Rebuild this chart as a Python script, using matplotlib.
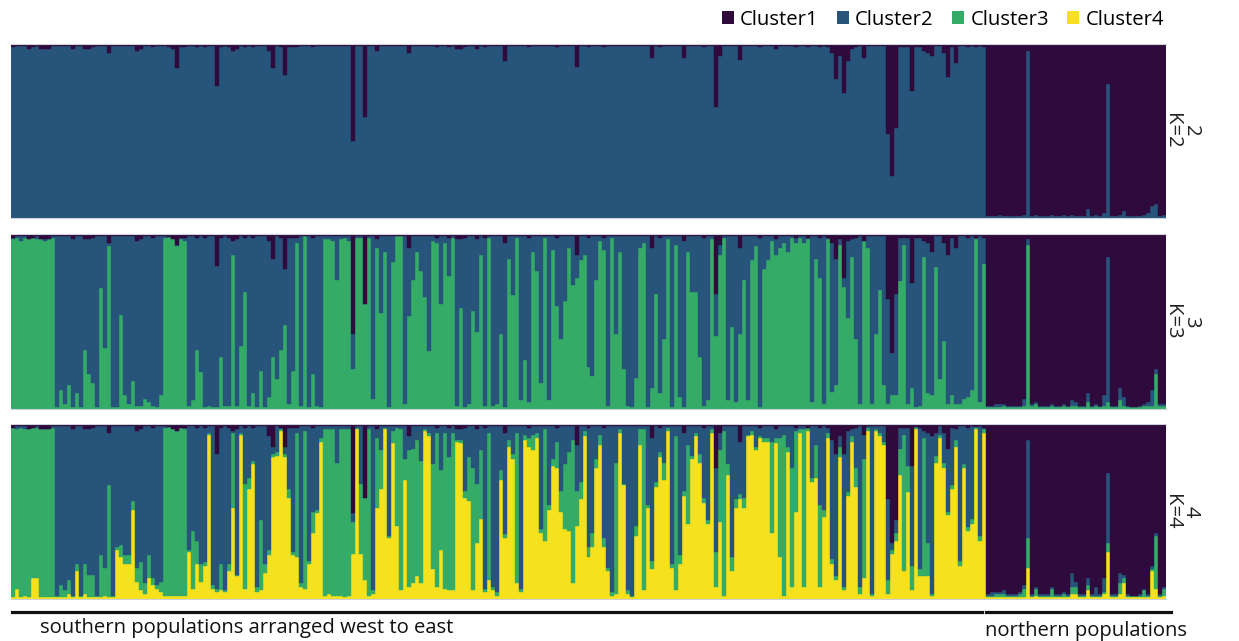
import numpy as np
import matplotlib.pyplot as plt
from matplotlib.patches import Patch
from matplotlib.lines import Line2D

plt.rcParams['font.family'] = ['Open Sans', 'DejaVu Sans']

cluster_names = ['Cluster1', 'Cluster2', 'Cluster3', 'Cluster4']
cluster_colors = ['#2f0b3d', '#27547a', '#34ac68', '#f6e11c']
k_values = ['2', '3', '4']
south_label = 'southern populations arranged west to east'
north_label = 'northern populations'

# percent membership per individual, southern individuals (west -> east)
# Cluster2 (blue) is the remainder in the south
k2_purple_south = [
    2, 1, 1, 1, 3, 2, 1, 3, 3, 3, 1, 1, 1, 1, 1, 3, 1, 1, 3, 3, 2, 1, 1, 1, 5, 1, 1, 1, 1, 1,
    1, 4, 3, 1, 1, 2, 1, 1, 1, 2, 3, 14, 2, 2, 1, 1, 2, 1, 2, 1, 1, 24, 2, 1, 2, 4, 3, 1, 2, 1,
    2, 1, 1, 1, 4, 14, 1, 2, 18, 2, 2, 2, 1, 1, 1, 2, 1, 1, 1, 1, 1, 1, 1, 1, 1, 56, 1, 1,
    42, 1, 1, 4, 1, 1, 1, 1, 1, 1, 1, 5, 1, 1, 1, 1, 1, 1, 2, 1, 1, 2, 1, 3, 3, 2, 1, 1, 3, 1,
    2, 1, 1, 1, 1, 10, 1, 1, 1, 1, 1, 2, 1, 1, 1, 1, 1, 1, 2, 1, 1, 1, 1, 13, 1, 1, 2, 1, 1,
    1, 2, 1, 1, 1, 1, 1, 1, 1, 1, 1, 1, 1, 8, 1, 2, 1, 1, 1, 1, 1, 8, 1, 1, 1, 1, 2, 1, 1,
    36, 7, 1, 1, 1, 1, 9, 1, 1, 1, 1, 2, 1, 1, 1, 3, 1, 1, 1, 1, 2, 1, 1, 2, 1, 1, 2, 1,
    2, 5, 20, 7, 28, 10, 3, 2, 1, 8, 1, 1, 1, 1, 1, 52, 76, 48, 2, 2, 2, 27, 2, 2, 4, 5, 7, 1, 1,
    5, 19, 2, 11, 1, 1, 2, 1, 2, 1, 2]

k3_purple_south = [
    2, 1, 1, 1, 3, 2, 1, 3, 3, 3, 1, 1, 1, 1, 1, 3, 1, 1, 3, 3, 2, 1, 1, 1, 5, 1, 1, 1, 1, 1,
    1, 4, 3, 1, 1, 2, 1, 1, 1, 2, 3, 6, 2, 2, 1, 1, 2, 1, 2, 1, 1, 18, 2, 1, 2, 4, 3, 1, 2, 1,
    2, 1, 1, 1, 4, 14, 1, 2, 20, 2, 2, 2, 1, 1, 1, 2, 1, 1, 1, 1, 1, 1, 1, 1, 1, 57, 1, 1,
    40, 1, 1, 3, 1, 1, 1, 1, 1, 1, 1, 8, 1, 1, 1, 1, 1, 1, 2, 1, 1, 2, 1, 3, 3, 2, 1, 1, 3, 1,
    2, 1, 1, 1, 1, 5, 1, 1, 1, 1, 1, 2, 1, 1, 1, 1, 1, 1, 2, 1, 1, 1, 1, 12, 1, 1, 2, 1, 1,
    1, 2, 1, 1, 1, 1, 1, 1, 1, 1, 1, 1, 1, 8, 1, 2, 1, 1, 1, 1, 1, 4, 1, 1, 1, 1, 2, 1, 1,
    34, 6, 1, 1, 1, 1, 8, 1, 1, 1, 1, 2, 1, 1, 1, 3, 1, 1, 1, 1, 2, 1, 1, 2, 1, 1, 2, 1,
    2, 5, 14, 3, 25, 4, 3, 2, 1, 4, 1, 1, 1, 1, 1, 37, 68, 34, 2, 2, 2, 28, 2, 2, 4, 5, 10, 1, 1,
    5, 12, 2, 8, 1, 1, 2, 1, 2, 1, 2]

k3_green_south = [
    97, 98, 96, 98, 97, 98, 97, 98, 96, 97, 98, 1, 11, 3, 14, 1, 9, 1, 34, 20, 15, 1, 69, 35, 93, 1, 1, 54, 8, 3,
    16, 2, 2, 6, 4, 2, 1, 8, 98, 99, 98, 93, 97, 96, 2, 5, 34, 21, 1, 2, 1, 1, 30, 2, 2, 88, 2, 36, 67, 2,
    9, 1, 22, 1, 7, 30, 17, 34, 48, 3, 22, 95, 2, 99, 1, 20, 2, 1, 97, 97, 96, 74, 97, 98, 96, 23, 98, 98, 60,
    98, 6, 92, 55, 90, 1, 84, 99, 99, 3, 53, 74, 90, 79, 64, 33, 96, 95, 60, 95, 76, 98, 2, 58, 1, 3, 56, 44, 88,
    2, 98, 2, 3, 43, 1, 86, 65, 98, 5, 28, 4, 90, 79, 15, 98, 5, 91, 59, 40, 62, 92, 71, 75, 85, 88, 24, 19, 74, 96,
    91, 2, 98, 43, 90, 23, 2, 1, 18, 92, 95, 1, 12, 66, 9, 40, 97, 1, 94, 7, 1, 90, 67, 67, 30, 2, 5, 97,
    42, 88, 98, 5, 47, 4, 43, 74, 5, 85, 93, 1, 80, 85, 96, 88, 92, 95, 90, 98, 95, 98, 95, 97, 4, 86, 75, 3,
    97, 10, 14, 94, 70, 52, 87, 40, 3, 97, 92, 3, 43, 68, 14, 3, 8, 8, 73, 94, 3, 12, 1, 2, 87, 9, 8, 81, 17,
    39, 3, 8, 3, 3, 6, 7, 11, 97, 4, 83]

k4_purple_south = [
    2, 1, 1, 1, 3, 2, 1, 3, 3, 3, 1, 1, 1, 1, 1, 3, 1, 1, 3, 3, 2, 1, 1, 1, 5, 1, 1, 1, 1, 1,
    1, 4, 3, 1, 1, 2, 1, 1, 1, 2, 3, 4, 2, 2, 1, 1, 2, 1, 2, 1, 1, 17, 2, 1, 2, 4, 3, 1, 2, 1,
    2, 1, 1, 1, 7, 13, 1, 2, 13, 2, 2, 2, 1, 1, 1, 2, 1, 1, 1, 1, 1, 1, 1, 1, 1, 51, 1, 1,
    42, 1, 1, 3, 1, 1, 1, 1, 1, 1, 1, 7, 1, 1, 1, 1, 1, 1, 2, 1, 1, 2, 1, 3, 3, 2, 1, 1, 3, 1,
    2, 1, 1, 1, 1, 5, 1, 1, 1, 1, 1, 2, 1, 1, 1, 1, 1, 1, 2, 1, 1, 1, 1, 12, 1, 1, 2, 1, 1,
    1, 2, 1, 1, 1, 1, 1, 1, 1, 1, 1, 1, 1, 8, 1, 2, 1, 1, 1, 1, 1, 5, 1, 1, 1, 1, 2, 1, 1,
    25, 5, 1, 1, 1, 1, 10, 1, 1, 1, 1, 2, 1, 1, 1, 3, 1, 1, 1, 1, 2, 1, 1, 2, 1, 1, 2, 1,
    2, 9, 17, 7, 17, 4, 3, 2, 1, 6, 1, 1, 1, 1, 1, 43, 68, 55, 2, 2, 2, 24, 2, 2, 4, 5, 7, 5, 1,
    5, 14, 2, 3, 1, 1, 2, 1, 2, 1, 2]

k4_green_south = [
    97, 91, 97, 95, 97, 86, 86, 98, 97, 97, 97, 1, 7, 4, 8, 1, 4, 1, 17, 13, 13, 1, 24, 16, 64, 1, 2, 7, 5, 5,
    5, 8, 16, 6, 13, 4, 2, 6, 96, 97, 96, 94, 96, 95, 1, 33, 13, 10, 2, 1, 2, 2, 15, 1, 4, 43, 1, 1, 60, 6,
    2, 3, 40, 5, 3, 2, 2, 1, 2, 5, 2, 71, 2, 90, 2, 12, 2, 2, 95, 94, 95, 76, 95, 96, 95, 18, 1, 40, 47,
    95, 2, 40, 22, 1, 1, 7, 56, 92, 12, 78, 77, 78, 70, 1, 2, 60, 88, 46, 89, 76, 90, 1, 2, 4, 25, 70, 34, 39,
    2, 84, 2, 2, 6, 2, 4, 3, 86, 2, 3, 5, 9, 3, 2, 64, 3, 4, 15, 12, 37, 45, 82, 20, 10, 3, 6, 8, 5,
    6, 5, 2, 2, 75, 2, 1, 2, 1, 6, 9, 92, 2, 5, 3, 3, 10, 2, 2, 88, 5, 3, 45, 2, 2, 5, 3, 2, 2,
    20, 41, 94, 6, 8, 5, 3, 6, 1, 2, 2, 1, 2, 2, 52, 3, 68, 92, 3, 68, 46, 2, 90, 2, 2, 19, 47, 4,
    3, 3, 2, 6, 2, 2, 3, 11, 4, 68, 2, 1, 1, 2, 2, 8, 2, 5, 15, 78, 15, 14, 1, 4, 79, 19, 1, 4, 2,
    3, 2, 2, 4, 3, 2, 2, 3, 1, 3, 2]

k4_yellow_south = [
    1, 6, 1, 2, 1, 12, 12, 1, 1, 1, 1, 1, 1, 1, 3, 1, 16, 1, 3, 1, 1, 1, 1, 2, 1, 1, 28, 24, 20, 20,
    51, 10, 5, 3, 12, 8, 6, 4, 2, 2, 2, 2, 2, 2, 27, 6, 20, 10, 19, 94, 6, 4, 5, 4, 16, 52, 13, 94, 6, 63,
    77, 4, 5, 15, 25, 81, 82, 96, 81, 58, 25, 24, 7, 6, 20, 38, 49, 90, 2, 3, 2, 2, 2, 1, 2, 26, 97, 26, 11,
    2, 3, 52, 63, 97, 35, 89, 42, 5, 68, 7, 9, 13, 9, 96, 93, 17, 7, 28, 6, 5, 5, 90, 89, 58, 56, 5, 32, 46,
    4, 11, 5, 2, 68, 35, 87, 80, 9, 4, 91, 87, 85, 92, 38, 33, 51, 76, 75, 50, 40, 39, 9, 42, 57, 93, 24, 30, 75,
    88, 30, 16, 2, 3, 95, 65, 3, 1, 36, 88, 5, 52, 17, 64, 81, 68, 96, 18, 5, 20, 59, 43, 80, 93, 78, 55, 43, 95,
    7, 44, 2, 71, 16, 52, 57, 52, 93, 94, 85, 92, 90, 90, 38, 89, 24, 2, 84, 7, 50, 95, 7, 96, 67, 69, 7, 47,
    92, 20, 11, 81, 5, 59, 90, 64, 3, 12, 96, 2, 96, 93, 88, 3, 26, 33, 71, 16, 61, 5, 98, 13, 13, 13, 2, 78, 92,
    75, 48, 63, 87, 19, 75, 39, 43, 98, 33, 95]

# northern individuals, Cluster1 (purple) is the remainder
k2_blue_north = [1, 1, 1, 2, 1, 1, 1, 1, 1, 2, 96, 1, 2, 1, 1, 1, 2, 1,
                 1, 2, 1, 2, 1, 1, 1, 5, 1, 2, 1, 3, 77, 1, 1, 2, 4, 1, 1, 1, 1, 2, 3, 7, 8, 1, 2]
k3_blue_north = [1, 1, 2, 2, 1, 1, 1, 1, 1, 4, 3, 1, 1, 1, 1, 1, 1, 1,
                 1, 1, 1, 3, 2, 1, 1, 5, 1, 1, 1, 6, 83, 1, 1, 7, 5, 1, 0, 0, 1, 1, 2, 9, 3, 1, 1]
k3_green_north = [1, 1, 1, 1, 2, 1, 1, 1, 1, 2, 94, 2, 3, 1, 1, 1, 2, 1,
                  1, 2, 1, 2, 2, 1, 1, 4, 1, 2, 1, 2, 4, 1, 1, 5, 2, 1, 1, 1, 1, 2, 2, 2, 20, 2, 2]
k4_blue_north = [1, 2, 1, 1, 2, 1, 1, 1, 1, 2, 56, 1, 1, 1, 1, 1, 1, 1,
                 1, 1, 1, 8, 3, 1, 1, 4, 1, 5, 1, 8, 40, 1, 1, 6, 2, 1, 0, 0, 1, 1, 1, 2, 2, 1, 1]
k4_green_north = [1, 1, 2, 2, 2, 1, 1, 1, 2, 5, 17, 1, 4, 1, 1, 1, 5, 1,
                  1, 2, 1, 4, 4, 1, 1, 3, 1, 1, 1, 1, 5, 1, 1, 6, 3, 1, 1, 1, 1, 4, 1, 1, 30, 1, 4]
k4_yellow_north = [1, 1, 1, 1, 1, 1, 1, 1, 1, 1, 18, 1, 2, 1, 1, 1, 1, 1,
                   1, 1, 1, 3, 3, 1, 1, 5, 1, 1, 1, 3, 27, 1, 1, 3, 9, 1, 1, 1, 1, 1, 1, 16, 6, 1, 2]

n_south = len(k2_purple_south)
n_north = len(k2_blue_north)
n = n_south + n_north
x = np.arange(n)


def shares(k, south, north):
    m = np.zeros((k, n))
    for i in range(k):
        name = cluster_names[i]
        if name in south:
            m[i, :n_south] = south[name]
        if name in north:
            m[i, n_south:] = north[name]
    m[1, :n_south] = np.clip(100 - m[:, :n_south].sum(0), 0, None)
    m[0, n_south:] = np.clip(100 - m[:, n_south:].sum(0), 0, None)
    return m / m.sum(0)


panels = [
    shares(2, {'Cluster1': k2_purple_south}, {'Cluster2': k2_blue_north}),
    shares(3, {'Cluster1': k3_purple_south, 'Cluster3': k3_green_south},
           {'Cluster2': k3_blue_north, 'Cluster3': k3_green_north}),
    shares(4, {'Cluster1': k4_purple_south, 'Cluster3': k4_green_south, 'Cluster4': k4_yellow_south},
           {'Cluster2': k4_blue_north, 'Cluster3': k4_green_north, 'Cluster4': k4_yellow_north}),
]

W, H = 1239, 641
fs = 14.6
fig = plt.figure(figsize=(W / 100, H / 100), dpi=100)

panel_px = [(44, 218), (234, 409), (424, 599)]
left, right = 11, 1166
for m, (top, bot), kv in zip(panels, panel_px, k_values):
    ax = fig.add_axes([left / W, 1 - bot / H, (right - left) / W, (bot - top) / H])
    bottom = np.zeros(n)
    for i in range(m.shape[0] - 1, -1, -1):
        ax.bar(x, m[i], bottom=bottom, width=1.0, color=cluster_colors[i],
               edgecolor=cluster_colors[i], linewidth=0.3)
        bottom += m[i]
    ax.set_xlim(-0.5, n - 0.5)
    ax.set_ylim(0, 1)
    ax.set_xticks([])
    ax.set_yticks([])
    for s in ['left', 'right']:
        ax.spines[s].set_visible(False)
    for s in ['top', 'bottom']:
        ax.spines[s].set_color('#cdd1dc')
        ax.spines[s].set_linewidth(0.8)
    yc = 1 - (top + bot) / 2 / H
    fig.text(1191 / W, yc, kv, rotation=270, ha='center', va='center', fontsize=fs, color='#222222')
    fig.text(1172 / W, yc, 'K=' + kv, rotation=270, ha='center', va='center', fontsize=fs, color='#222222')

handles = [Patch(facecolor=c, edgecolor='none') for c in cluster_colors]
fig.legend(handles, cluster_names, loc='center right', bbox_to_anchor=(1164 / W, 1 - 20 / H),
           ncol=4, frameon=False, fontsize=fs, handlelength=0.6, handleheight=0.6,
           handletextpad=0.3, columnspacing=0.9, borderaxespad=0, borderpad=0)

fig.add_artist(Line2D([12 / W, 982 / W], [1 - 612 / H] * 2, color='#111111', linewidth=2.3))
fig.add_artist(Line2D([986 / W, 1171 / W], [1 - 612 / H] * 2, color='#111111', linewidth=2.3))
fig.text(40 / W, 1 - 628 / H, south_label, ha='left', va='center', fontsize=fs, color='#111111')
fig.text(985 / W, 1 - 631 / H, north_label, ha='left', va='center', fontsize=fs, color='#111111')

fig.savefig('out.png', dpi=100, facecolor='white')
